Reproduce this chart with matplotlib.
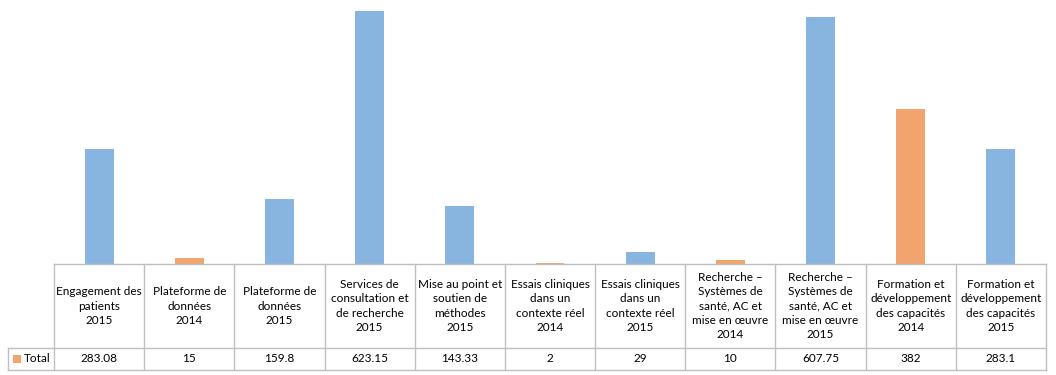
import matplotlib
matplotlib.use("Agg")
import matplotlib.pyplot as plt
import matplotlib.transforms as mtransforms
from matplotlib.patches import Rectangle

labels = ["Engagement des\npatients\n2015",
          "Plateforme de\ndonnées\n2014",
          "Plateforme de\ndonnées\n2015",
          "Services de\nconsultation et\nde recherche\n2015",
          "Mise au point et\nsoutien de\nméthodes\n2015",
          "Essais cliniques\ndans un\ncontexte réel\n2014",
          "Essais cliniques\ndans un\ncontexte réel\n2015",
          "Recherche –\nSystèmes de\nsanté, AC et\nmise en œuvre\n2014",
          "Recherche –\nSystèmes de\nsanté, AC et\nmise en œuvre\n2015",
          "Formation et\ndéveloppement\ndes capacités\n2014",
          "Formation et\ndéveloppement\ndes capacités\n2015"]
years = [2015, 2014, 2015, 2015, 2015, 2014, 2015, 2014, 2015, 2014, 2015]
totals = [283.08, 15, 159.8, 623.15, 143.33, 2, 29, 10, 607.75, 382, 283.1]

BLUE = "#88b4e0"
ORANGE = "#f2a46e"
GRID = "#bfbfbf"
plt.rcParams['font.family'] = ['Lato', 'DejaVu Sans']

fig = plt.figure(figsize=(10.56, 3.75), dpi=100)
ax = fig.add_axes([54/1056, 111/375, 992/1056, 264/375])
n = len(totals)
xs = range(n)
cols = [ORANGE if y == 2014 else BLUE for y in years]
ax.bar(xs, totals, width=0.32, color=cols)
ax.set_xlim(-0.5, n - 0.5)
ax.set_ylim(0, 650)
ax.axis("off")

# data table under the bars
tr = mtransforms.blended_transform_factory(ax.transData, ax.transAxes)
h_top, h_mid, h_bot = 0.0, -84/264, -106/264
left_x = -0.5 - 46/90.2
kw = dict(color=GRID, lw=1, transform=tr, clip_on=False)
ax.plot([-0.5, n - 0.5], [h_top, h_top], **kw)
ax.plot([left_x, n - 0.5], [h_mid, h_mid], **kw)
ax.plot([left_x, n - 0.5], [h_bot, h_bot], **kw)
ax.plot([left_x, left_x], [h_mid, h_bot], **kw)
for i in range(n + 1):
    ax.plot([i - 0.5, i - 0.5], [h_top, h_bot], **kw)

for i, (lab, v) in enumerate(zip(labels, totals)):
    ax.text(i, (h_top + h_mid) / 2, lab, transform=tr, ha="center", va="center",
            fontsize=8.5, linespacing=1.35, color="black")
    ax.text(i, (h_mid + h_bot) / 2, f"{v:g}", transform=tr, ha="center", va="center",
            fontsize=8.5, color="black")

# legend key in table
ax.add_patch(Rectangle((-0.5 - 41/90.2, (h_mid + h_bot) / 2 - 4/264), 8/90.2, 8/264,
                       facecolor=ORANGE, edgecolor="none", transform=tr, clip_on=False))
ax.text(-0.5 - 30/90.2, (h_mid + h_bot) / 2, "Total", transform=tr, ha="left", va="center",
        fontsize=8.5, color="black")

fig.savefig("out.png", dpi=100)
